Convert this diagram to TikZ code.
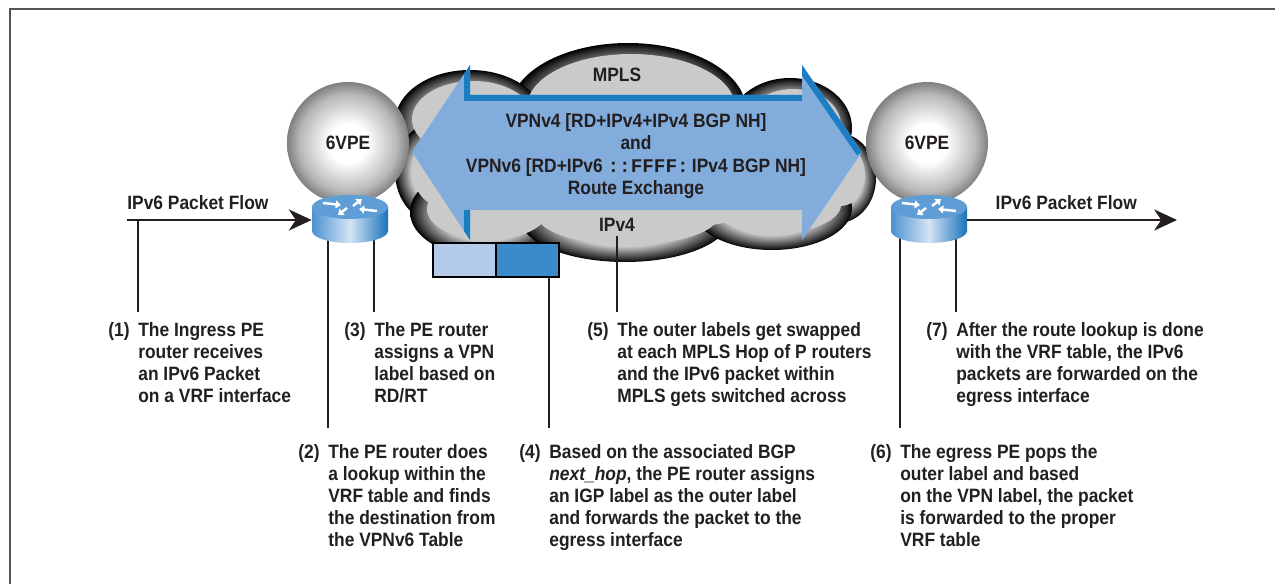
\documentclass[tikz,border=0pt]{standalone}
\usepackage{fontspec}
\setmainfont{Liberation Sans}[FakeStretch=0.9]
\newfontfamily\monofont{Liberation Mono}
\usetikzlibrary{arrows.meta,positioning,calc}

\definecolor{inkdark}{HTML}{231F20}
\definecolor{framegray}{HTML}{555555}
\definecolor{cloudgray}{HTML}{CACACA}
\definecolor{xchgfill}{HTML}{82ACDB}
\definecolor{xchgedge}{HTML}{1C7DC3}
\definecolor{lblinner}{HTML}{B4CBE9}
\definecolor{lblouter}{HTML}{3A8BCB}
\definecolor{rtrtop}{HTML}{5E9DD6}
\definecolor{rtrleft}{HTML}{4C92D1}
\definecolor{rtrright}{HTML}{1A72BA}
\definecolor{rtrshine}{HTML}{D4E4F4}

% shadings for the PE spheres and the cloud bumps (path edge sits at 25bp)
\pgfdeclareradialshading{ball}{\pgfpoint{0bp}{0bp}}{%
  color(0bp)=(white); color(8bp)=(white); color(20bp)=(black!28);
  color(25bp)=(black!50); color(50bp)=(black!50)}
\pgfdeclareradialshading{bump}{\pgfpoint{0bp}{0bp}}{%
  color(0bp)=(cloudgray); color(16bp)=(cloudgray); color(23bp)=(black!80);
  color(25bp)=(black); color(50bp)=(black)}

\tikzset{%
  >={Stealth[length=13pt,width=12pt,inset=4pt]},
  % Specifications for style of nodes:
       txt/.style = {inner sep=0pt, text=inkdark,
                     font=\fontsize{11pt}{12.6pt}\selectfont\bfseries},
      note/.style = {txt, anchor=north west, align=left},
        pe/.style = {circle, minimum size=2.44cm, shade, shading=ball, txt},
    router/.style = {rectangle, minimum width=1.52cm, minimum height=1cm, inner sep=0pt},
  labelbox/.style = {rectangle, draw=black, line width=1.2pt,
                     minimum width=1.26cm, minimum height=0.68cm, inner sep=0pt},
      lead/.style = {draw=inkdark, line width=1.1pt},
  rtrarrow/.style = {white, line width=1.4pt, -{Triangle[length=3pt,width=4.5pt]}}
}

\begin{document}
\begin{tikzpicture}[x=0.02cm, y=0.02cm]
  \useasboundingbox (0,0) rectangle (1275,-584);
  \draw[framegray, line width=1.2pt] (10,-584) -- (10,-9) -- (1275,-9);

  % MPLS cloud: dark rim, then the lighter core
  \foreach \cx/\cy/\rx/\ry in {628/110/118/67, 470/122/75/52, 790/128/62/50, 838/178/38/45,
                               440/172/45/52, 485/212/75/45, 625/218/105/44, 772/208/80/42}
    \shade[shading=bump] (\cx,-\cy) ellipse [x radius=\rx, y radius=\ry];
  \foreach \cx/\cy/\rx/\ry in {628/110/118/67, 470/122/75/52, 790/128/62/50, 838/178/38/45,
                               440/172/45/52, 485/212/75/45, 625/218/105/44, 772/208/80/42}
    \fill[cloudgray] (\cx+3,-\cy+3) ellipse [x radius=\rx-14, y radius=\ry-14];
  \fill[cloudgray] (632,-162) ellipse [x radius=185, y radius=70];

  % route exchange double arrow
  \fill[xchgfill] (412,-152) -- (470,-65) -- (470,-95) -- (802,-95) -- (802,-65) -- (862,-152)
                  -- (802,-240) -- (802,-210) -- (470,-210) -- (470,-240) -- cycle;
  \begin{scope}
    \clip (412,-152) -- (470,-65) -- (470,-95) -- (802,-95) -- (802,-65) -- (862,-152)
          -- (802,-240) -- (802,-210) -- (470,-210) -- (470,-240) -- cycle;
    \draw[xchgedge, line width=0.24cm] (470,-60) -- (470,-95) -- (802,-95);
    \draw[xchgedge, line width=0.24cm] (802,-65) -- (862,-152);
    \draw[xchgedge, line width=0.24cm] (470,-210) -- (470,-245);
  \end{scope}

  \node (mpls) [txt] at (617,-75)  {MPLS};
  \node (ipv4) [txt] at (617,-225) {IPv4};
  \node (xchg) [txt, align=center] at (636,-156)
        {VPNv4 [RD+IPv4+IPv4 BGP NH]\\and\\
         VPNv6 [RD+IPv6 {\monofont\bfseries ::FFFF:}\,IPv4 BGP NH]\\Route Exchange};

  % numbered notes
  \node (t1) [note] at (138,-322) {\leavevmode\llap{(1)\hspace{5pt}}The Ingress PE\\router receives\\an IPv6 Packet\\on a VRF interface};
  \node (t3) [note] at (374,-322) {\leavevmode\llap{(3)\hspace{5pt}}The PE router\\assigns a VPN\\label based on\\RD/RT};
  \node (t5) [note] at (617,-322) {\leavevmode\llap{(5)\hspace{5pt}}The outer labels get swapped\\at each MPLS Hop of P routers\\and the IPv6 packet within\\MPLS gets switched across};
  \node (t7) [note] at (956,-322) {\leavevmode\llap{(7)\hspace{5pt}}After the route lookup is done\\with the VRF table, the IPv6\\packets are forwarded on the\\egress interface};
  \node (t2) [note] at (328,-444) {\leavevmode\llap{(2)\hspace{5pt}}The PE router does\\a lookup within the\\VRF table and finds\\the destination from\\the VPNv6 Table};
  \node (t4) [note] at (549,-444) {\leavevmode\llap{(4)\hspace{5pt}}Based on the associated BGP\\\textit{next\_hop}, the PE router assigns\\an IGP label as the outer label\\and forwards the packet to the\\egress interface};
  \node (t6) [note] at (900,-444) {\leavevmode\llap{(6)\hspace{5pt}}The egress PE pops the\\outer label and based\\on the VPN label, the packet\\is forwarded to the proper\\VRF table};

  \node (rtrL) [router] at (350,-220) {};
  \node (rtrR) [router] at (929,-220) {};
  \node (lblIn)  [labelbox, fill=lblinner] at (464.5,-260) {};
  \coordinate (flowL) at (127,-220);
  \coordinate (flowR) at (1177,-220);

  % leader lines
  \draw[lead, shorten >=0.2cm]  (t1.north west |- flowL) -- (t1.north west);
  \draw[lead, shorten >=0.32cm] (t2.north west |- rtrL.center) -- (t2.north west);
  \draw[lead, shorten >=0.2cm]  (t3.north west |- rtrL.center) -- (t3.north west);
  \draw[lead, shorten >=0.32cm] (t4.north west |- lblIn.center) -- (t4.north west);
  \draw[lead, shorten <=2pt, shorten >=0.2cm] (t5.north west |- ipv4.south) -- (t5.north west);
  \draw[lead, shorten >=0.32cm] (t6.north west |- rtrR.center) -- (t6.north west);
  \draw[lead, shorten >=0.2cm]  (t7.north west |- rtrR.center) -- (t7.north west);

  \node (lblIn)  [labelbox, fill=lblinner] at (464.5,-260) {};
  \node (lblOut) [labelbox, fill=lblouter, right=-1.2pt of lblIn] {};

  \node (peL) [pe] at (348,-143) {6VPE};
  \node (peR) [pe] at (927,-143) {6VPE};

  % PE routers
  \foreach \r in {rtrL,rtrR} {
    \begin{scope}[shift={(\r.center)}]
      \shade[left color=rtrleft, right color=rtrright, middle color=rtrshine]
        (-38,13) -- (-38,-11) arc [start angle=180, end angle=360, x radius=38, y radius=12]
        -- (38,13) -- cycle;
      \fill[rtrtop] (0,13) ellipse [x radius=38, y radius=12];
      \draw[rtrarrow] (-27,17) -- (-9,15);
      \draw[rtrarrow] (27,9) -- (9,11);
      \draw[rtrarrow] (3,14) -- (12,21);
      \draw[rtrarrow] (-3,12) -- (-12,5);
    \end{scope}
  }

  % packet flow
  \draw[lead, ->] (flowL) -- (rtrL.west);
  \draw[lead, ->] (rtrR.east) -- (flowR);
  \node (flowLlbl) [txt, above right=5.5pt and 0pt of flowL] {IPv6 Packet Flow};
  \node (flowRlbl) [txt, above right=5.5pt and 0.56cm of rtrR.east] {IPv6 Packet Flow};
\end{tikzpicture}
\end{document}
